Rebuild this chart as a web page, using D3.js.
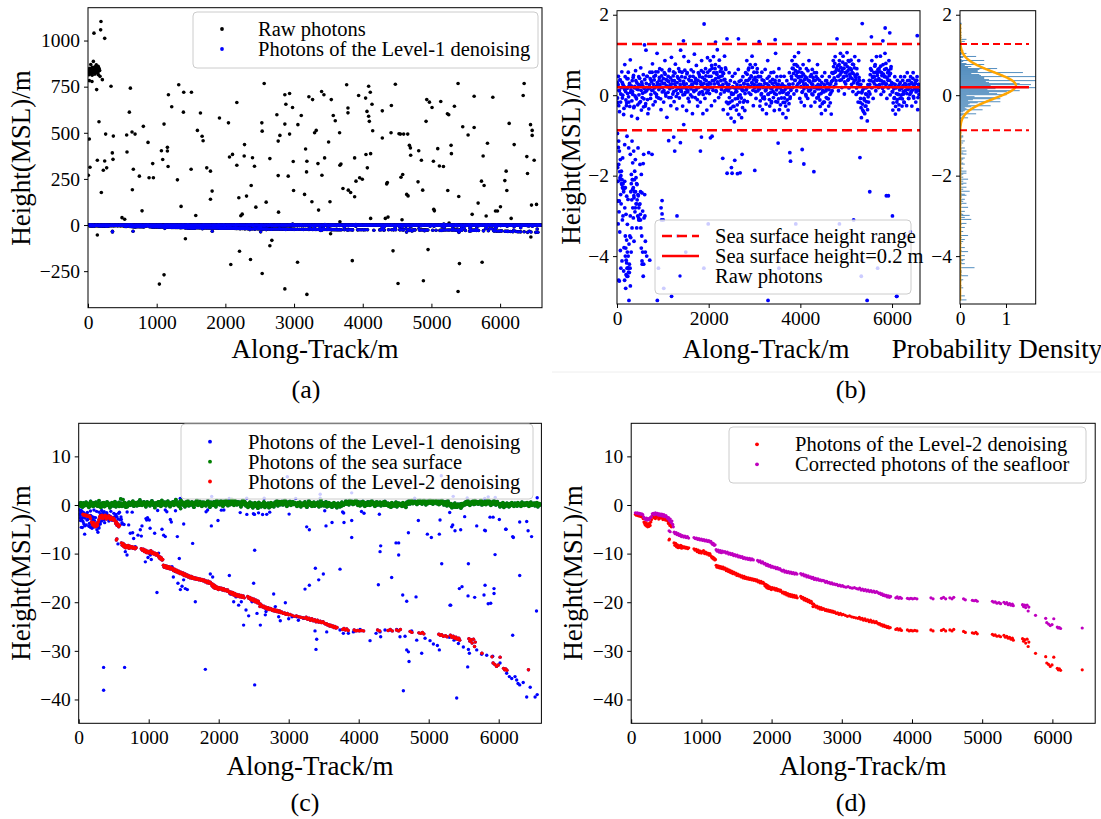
<!DOCTYPE html>
<html><head><meta charset="utf-8">
<script src="https://cdn.jsdelivr.net/npm/d3@7"></script>
<style>
body{margin:0;background:#fff;}
svg text{font-family:"Liberation Serif","Times New Roman",serif;fill:#000;}
</style></head><body>
<svg id="fig" width="1101" height="819"></svg>
<script>
// ---------------- DATA (flat lists: x0,y0, x1,y1, ...) ----------------
// (a) raw photons outside the Level-1 set (along-track m, height m)
const rawNoiseA = [5,835,12,845,20,828,28,850,35,838,42,822,50,846,58,832,65,855,72,840,80,826,88,848,95,836,102,858,110,830,118,844,125,852,132,826,140,840,148,860,155,834,162,848,170,838,15,815,60,812,100,818,150,815,78,887,40,870,120,868,
189,1103,87,1040,184,1058,243,1012,19,783,58,778,126,734,175,806,209,788,335,752,617,742,19,466,29,313,5,270,136,351,160,560,194,176,223,297,243,347,257,493,272,310,136,-54,354,391,364,356,369,482,495,40,534,31,563,488,568,396,602,612,641,504,660,302,646,191,685,493,748,265,787,77,806,535,874,448,889,256,942,333,952,256,1039,-320,1107,-270,1069,403,1088,355,1107,547,1156,421,1156,401,1166,317,1171,706,1219,641,1302,245,1321,760,1355,101,1389,612,1394,720,1418,-74,1506,720,1501,302,1569,52,1593,513,1637,607,1661,481,1676,457,1729,310,1783,292,1783,140,1807,184,1914,580,2045,554,2079,-214,2060,369,2104,383,2167,664,2167,324,2196,148,2206,-142,2225,50,2245,59,2274,374,2279,436,2308,157,2366,-187,2376,214,2395,365,2424,319,2444,97,2531,554,2536,509,2536,-263,2565,767,2594,124,2648,360,2648,-112,2677,-83,2750,598,2769,455,2769,268,2774,70,2794,486,2866,706,2866,547,2866,-346,2881,655,2915,265,2935,713,2935,493,2978,637,2988,344,2993,187,3051,-202,3056,544,3105,594,3153,166,3168,412,3182,288,3187,-376,3216,695,
3270,680,3299,500,3323,513,3187,346,3260,126,3357,81,3348,333,3406,270,3401,724,3435,706,3445,364,3503,450,3523,126,3542,680,3532,-47,3571,594,3600,565,3663,500,3668,324,3683,331,3668,18,3712,198,3766,760,3785,634,3785,608,3790,189,3824,176,3848,-193,3882,364,3882,153,3902,238,3940,702,3955,256,3994,248,4042,688,4047,382,4067,310,4086,752,4062,616,4086,590,4096,562,4110,720,4115,387,4135,655,4115,36,4145,511,4285,619,4285,472,4329,36,4368,43,4358,230,4349,223,4417,648,4412,500,4441,-140,4475,763,4528,495,4548,493,4582,274,4596,493,4557,259,4514,-317,4572,29,4640,166,4660,158,4655,493,4679,432,4694,418,4698,378,4815,403,4805,234,4854,351,4873,189,4883,-302,4932,680,4971,666,5009,637,4922,562,4951,-133,5029,346,5034,86,5043,77,5092,414,5136,670,5116,320,5175,317,5238,187,5233,603,5252,598,5286,432,5291,387,5257,11,5335,644,5388,767,5398,155,5408,-209,5388,-360,5456,533,5534,488,5622,698,5622,529,5593,58,5680,119,5729,238,5767,214,5753,374,5738,-202,5816,443,5797,49,5894,693,5933,76,5962,76,6005,99,6069,241,6088,292,6098,187,6132,551,6161,36,6205,436,6336,702,6350,767,6389,371,6443,544,6467,513,6467,486,6399,279,6496,351,6457,108,6530,112,6448,-65];

// (b) photons around the sea surface (Level-1)
const surfacePhotons = [
5,0.32,18,-0.18,30,0.47,42,0.12,55,-0.41,68,0.38,82,0.03,105,0.58,118,-0.07,130,0.27,145,-0.48,158,0.21,170,0.76,188,0.09,
205,-0.26,218,0.41,232,0.04,246,0.57,260,-0.17,274,0.29,290,0.88,305,0.13,318,-0.52,332,0.36,346,0.02,360,0.49,374,-0.28,388,0.22,
405,0.61,418,-0.06,432,0.31,446,-0.58,460,0.14,474,0.46,488,-0.19,505,0.24,518,0.68,532,-0.37,546,0.28,560,0.05,574,0.51,588,-0.09,
605,0.39,618,-0.27,632,1.12,646,0.11,660,0.47,674,-0.46,688,0.19,705,0.26,718,0.57,732,-0.08,746,0.37,760,0.12,774,0.78,788,-0.24,
805,0.46,818,0.18,832,-0.16,846,0.58,860,0.02,874,1.04,888,0.27,905,-0.07,918,0.36,932,0.66,946,0.19,960,-0.36,974,0.48,988,0.08,
1005,0.29,1018,-0.17,1032,0.56,1046,0.86,1060,0.04,1074,0.39,1088,-0.55,1105,0.21,1118,0.47,1132,-0.06,1146,0.64,1160,0.26,1174,-0.26,1188,0.94,
1205,0.37,1218,0.03,1232,0.58,1246,-0.16,1260,0.28,1274,0.77,1288,0.12,1305,-0.34,1318,0.46,1332,0.18,1346,0.66,1360,-0.07,1374,0.36,1388,1.12,
1405,0.09,1418,0.57,1432,-0.27,1446,0.29,1460,0.96,1474,0.02,1488,0.44,1505,0.17,1518,-0.38,1532,0.56,1546,0.08,1560,0.84,1574,-0.16,1588,0.36,
1605,0.01,1618,0.63,1632,0.27,1646,-0.46,1660,0.47,1674,0.12,1688,1.02,1705,-0.06,1718,0.38,1732,0.74,1746,0.19,1760,-0.27,1774,0.56,1788,0.03,
1805,0.46,1818,-0.17,1832,0.27,1846,0.86,1860,0.09,1874,-0.46,1888,0.57,1905,0.18,1918,-0.08,1932,0.66,1946,0.36,1960,-0.37,1974,0.93,1988,0.12,
2005,0.47,2018,0.04,2032,0.86,2046,0.28,2060,-0.26,2074,0.67,2088,0.19,2105,0.96,2118,0.37,2132,-0.14,2146,0.76,2160,0.11,2174,0.56,2188,1.13,
2205,0.29,2218,-0.06,2232,0.87,2246,0.46,2260,0.03,2274,0.66,2288,0.21,2305,0.57,2318,-0.36,2332,0.38,2346,0.97,2360,0.12,2374,0.64,2388,-0.17,
2405,0.27,2418,-0.47,2432,0.11,2446,0.56,2460,-0.18,2474,0.36,2488,-0.57,2505,0.02,2518,0.47,2532,-0.28,2546,0.19,2560,-0.66,2574,0.54,2588,0.08,
2605,-0.37,2618,0.26,2632,-0.08,2646,0.64,2660,-0.48,2674,0.18,2688,0.01,2705,0.37,2718,-0.56,2732,0.12,2746,0.46,2760,-0.17,2774,0.28,2788,-0.38,
2805,0.56,2818,0.13,2832,0.86,2846,-0.16,2860,0.37,2874,0.67,2888,0.21,2905,0.76,2918,0.02,2932,0.46,2946,0.97,2960,0.28,2974,-0.26,2988,0.57,
3005,0.18,3018,0.76,3032,-0.08,3046,0.37,3060,0.66,3074,0.11,3088,0.47,3105,0.27,3118,-0.27,3132,0.46,3146,0.01,3160,0.57,3174,-0.36,3188,0.19,
3205,0.36,3218,-0.09,3232,0.64,3246,0.12,3260,-0.46,3274,0.28,3288,0.86,3305,0.03,3318,0.47,3332,-0.27,3346,0.18,3360,0.56,3374,-0.16,3388,0.29,
3405,0.09,3418,0.57,3432,-0.38,3446,0.37,3460,1.04,3474,0.02,3488,0.46,3505,-0.17,3518,0.27,3532,0.66,3546,-0.36,3560,0.18,3574,0.47,3588,-0.07,
3605,0.28,3618,-0.46,3632,0.09,3646,0.47,3660,-0.18,3674,0.21,3688,-0.56,3705,0.36,3718,0.02,3732,-0.37,3746,0.27,3760,0.56,3774,-0.08,3788,0.18,
3805,0.47,3818,0.86,3832,0.19,3846,0.66,3860,0.03,3874,0.96,3888,0.37,3905,0.76,3918,0.11,3932,0.57,3946,0.28,3960,1.06,3974,0.46,3988,-0.08,
4005,0.37,4018,-0.17,4032,0.56,4046,0.09,4060,0.76,4074,0.27,4088,-0.26,4105,0.46,4118,0.02,4132,0.66,4146,0.19,4160,-0.08,4174,0.37,4188,0.86,
4205,0.11,4218,0.47,4232,-0.27,4246,0.28,4260,0.64,4274,0.01,4288,0.36,4305,0.56,4318,-0.17,4332,0.19,4346,0.46,4360,-0.07,4374,0.76,4388,0.27,
4405,0.02,4418,0.37,4432,-0.28,4446,0.18,4460,-0.46,4474,0.47,4488,0.09,4505,-0.17,4518,0.27,4532,0.56,4546,-0.37,4560,0.11,4574,0.36,4588,-0.08,
4605,0.19,4618,-0.27,4632,0.46,4646,0.02,4660,0.28,4674,-0.47,4688,0.56,4705,0.37,4718,0.86,4732,0.21,4746,0.57,4760,0.96,4774,0.28,4788,0.66,
4818,0.47,4832,0.11,4846,0.76,4860,0.37,4874,1.04,4888,0.56,4905,0.19,4918,0.66,4932,0.97,4946,0.46,4960,0.03,4974,0.76,4988,0.28,
5005,0.57,5018,1.06,5032,0.37,5046,0.86,5060,0.18,5074,0.67,5088,0.46,5105,0.87,5118,0.27,5132,0.56,5146,0.09,5160,0.76,5174,0.36,5188,0.96,
5205,0.46,5218,0.02,5232,0.66,5246,0.28,5260,-0.17,5274,0.86,5288,0.37,5305,-0.18,5318,0.27,5332,-0.56,5346,0.09,5360,-0.37,5374,0.36,5388,-0.08,
5405,-0.46,5418,0.18,5432,-0.27,5446,0.02,5460,-0.64,5474,0.26,5488,-0.17,5505,0.37,5518,0.03,5532,0.66,5546,0.19,5560,0.86,5574,0.46,5588,-0.08,
5605,0.56,5618,0.28,5632,0.76,5646,0.11,5660,0.96,5674,0.37,5688,0.57,5705,0.19,5718,0.66,5732,0.37,5746,0.97,5760,0.02,5774,0.56,5788,0.28,
5805,0.76,5818,0.09,5832,0.46,5846,1.04,5860,0.27,5874,0.66,5888,-0.08,5905,0.56,5918,0.18,5932,0.86,5946,0.37,5960,0.01,5974,0.66,5988,0.27,
6005,0.09,6018,-0.37,6032,0.28,6046,-0.08,6060,0.46,6074,-0.47,6088,0.18,6105,-0.17,6118,0.37,6132,0.02,6146,-0.36,6160,0.27,6174,-0.08,6188,0.46,
6205,0.01,6218,-0.27,6232,0.37,6246,0.09,6260,-0.17,6274,0.46,6288,0.11,6305,0.27,6318,-0.26,6332,0.56,6346,0.18,6360,-0.08,6374,0.37,6388,0.02,
6405,0.46,6418,0.09,6432,-0.27,6446,0.28,6460,0.56,6474,-0.07,6488,0.19,6505,0.37,6518,-0.17,6532,0.11,6546,0.46,6560,-0.36,6574,0.27,6588,0.02,
// denser core of the band
12,-0.07,25,0.26,39,-0.26,52,0.11,66,0.38,79,-0.17,94,0.19,112,0.32,125,0.0,139,0.21,152,-0.33,166,0.14,179,0.46,194,-0.12,
212,-0.19,225,0.17,239,0.41,252,-0.04,266,0.24,279,-0.28,294,0.07,312,0.23,325,-0.14,339,0.09,352,0.44,366,-0.31,379,0.18,394,-0.02,
412,0.36,425,-0.09,439,0.15,452,-0.24,466,0.27,479,0.01,494,0.42,512,-0.16,525,0.12,539,0.33,552,-0.06,566,0.22,579,-0.29,594,0.17,
612,0.08,625,-0.21,639,0.29,652,0.47,666,-0.11,679,0.16,694,-0.34,712,0.18,725,0.41,739,0.02,752,0.33,766,0.57,779,0.12,794,0.27,
812,0.38,825,0.06,839,0.49,852,0.21,866,-0.04,879,0.31,894,0.58,912,0.14,925,0.44,939,0.26,952,-0.09,966,0.35,979,0.63,994,0.19,
1012,0.41,1025,0.11,1039,0.29,1052,0.52,1066,-0.02,1079,0.24,1094,0.37,1112,0.07,1125,0.34,1139,0.61,1152,0.16,1166,0.43,1179,-0.06,1194,0.28,
1212,0.19,1225,0.48,1239,0.09,1252,0.36,1266,0.55,1279,0.22,1294,-0.03,1312,0.31,1325,0.04,1339,0.42,1352,0.17,1366,0.59,1379,0.26,1394,0.11,
1412,0.46,1425,0.18,1439,0.01,1452,0.34,1466,0.23,1479,0.62,1494,0.07,1512,0.28,1525,0.53,1539,0.12,1552,-0.08,1566,0.39,1579,0.21,1594,0.47,
1612,0.16,1625,0.36,1639,-0.04,1652,0.27,1666,0.58,1679,0.09,1694,0.32,1712,0.42,1725,0.13,1739,0.29,1752,-0.11,1766,0.37,1779,0.19,1794,0.51,
1812,0.07,1825,0.33,1839,0.61,1852,0.24,1866,0.44,1879,0.02,1894,0.29,1912,0.39,1925,0.16,1939,0.48,1952,0.06,1966,0.27,1979,0.57,1994,0.21,
2012,0.31,2025,0.62,2039,0.19,2052,0.47,2066,0.74,2079,0.36,2094,0.12,2112,0.56,2125,0.28,2139,0.66,2152,0.41,2166,0.09,2179,0.52,2194,0.33,
2212,0.44,2225,0.71,2239,0.23,2252,0.59,2266,0.36,2279,0.14,2294,0.48,2312,0.27,2325,0.54,2339,0.08,2352,0.39,2366,0.68,2379,0.31,2394,0.18,
2412,0.13,2425,-0.21,2439,0.27,2452,-0.06,2466,0.18,2479,-0.33,2494,0.06,2512,-0.14,2525,0.21,2539,0.03,2552,-0.28,2566,0.32,2579,-0.09,2594,0.16,
2612,0.09,2625,-0.24,2639,0.19,2652,-0.02,2666,0.34,2679,-0.17,2694,0.24,2712,-0.07,2725,0.16,2739,-0.31,2752,0.11,2766,0.29,2779,-0.13,2794,0.04,
2812,0.36,2825,0.14,2839,0.52,2852,0.27,2866,0.63,2879,0.06,2894,0.41,2912,0.22,2925,0.48,2939,0.31,2952,0.69,2966,0.12,2979,0.38,2994,0.26,
3012,0.44,3025,0.09,3039,0.33,3052,0.57,3066,0.24,3079,0.46,3094,0.17,3112,0.16,3125,-0.14,3139,0.26,3152,0.04,3166,0.38,3179,-0.07,3194,0.21,
3212,-0.04,3225,0.29,3239,0.11,3252,-0.22,3266,0.18,3279,0.42,3294,0.02,3312,0.24,3325,-0.11,3339,0.34,3352,0.07,3366,-0.19,3379,0.16,3394,0.39,
3412,-0.06,3425,0.22,3439,0.04,3452,0.31,3466,-0.16,3479,0.13,3494,0.27,3512,0.19,3525,-0.09,3539,0.36,3552,0.06,3566,-0.24,3579,0.23,3594,0.12,
3612,0.07,3625,-0.18,3639,0.23,3652,-0.07,3666,0.14,3679,-0.27,3694,0.03,3712,-0.12,3725,0.19,3739,0.06,3752,-0.21,3766,0.27,3779,-0.04,3794,0.12,
3812,0.41,3825,0.67,3839,0.28,3852,0.54,3866,0.76,3879,0.37,3894,0.61,3912,0.49,3925,0.23,3939,0.72,3952,0.44,3966,0.58,3979,0.31,3994,0.66,
4012,0.21,4025,0.46,4039,0.07,4052,0.34,4066,0.52,4079,0.16,4094,0.39,4112,0.28,4125,-0.02,4139,0.43,4152,0.24,4166,0.61,4179,0.11,4194,0.36,
4212,0.33,4225,0.14,4239,0.51,4252,0.03,4266,0.27,4279,0.44,4294,0.19,4312,0.09,4325,0.37,4339,0.22,4352,0.56,4366,0.16,4379,0.41,4394,-0.04,
4412,0.16,4425,-0.12,4439,0.24,4452,0.04,4466,0.31,4479,-0.21,4494,0.12,4512,0.08,4525,-0.17,4539,0.21,4552,0.36,4566,-0.06,4579,0.17,4594,0.29,
4612,-0.09,4625,0.14,4639,0.27,4652,-0.19,4666,0.06,4679,0.34,4694,0.11,4712,0.54,4725,0.71,4739,0.43,4752,0.79,4766,0.58,4779,0.36,4794,0.64,
4812,0.73,4825,0.47,4839,0.62,4852,0.86,4866,0.51,4879,0.69,4894,0.38,4912,0.59,4925,0.82,4939,0.44,4952,0.67,4966,0.33,4979,0.56,4994,0.78,
5012,0.48,5025,0.71,5039,0.61,5052,0.39,5066,0.84,5079,0.52,5094,0.66,5112,0.63,5125,0.42,5139,0.77,5152,0.54,5166,0.31,5179,0.68,5194,0.49,
5212,0.39,5225,0.18,5239,0.52,5252,0.31,5266,0.07,5279,0.44,5294,0.26,5312,-0.08,5325,-0.31,5339,0.06,5352,-0.22,5366,0.14,5379,-0.41,5394,-0.12,
5412,-0.27,5425,0.03,5439,-0.16,5452,0.19,5466,-0.36,5479,-0.04,5494,0.09,5512,0.27,5525,0.51,5539,0.36,5552,0.62,5566,0.19,5579,0.44,5594,0.33,
5612,0.46,5625,0.72,5639,0.38,5652,0.57,5666,0.24,5679,0.49,5694,0.64,5712,0.41,5725,0.26,5739,0.58,5752,0.72,5766,0.36,5779,0.49,5794,0.17,
5812,0.52,5825,0.33,5839,0.64,5852,0.46,5866,0.79,5879,0.28,5894,0.43,5912,0.37,5925,0.61,5939,0.49,5952,0.24,5966,0.54,5979,0.71,5994,0.31,
6012,0.08,6025,-0.19,6039,0.16,6052,-0.06,6066,0.27,6079,-0.28,6094,0.04,6112,-0.11,6125,0.21,6139,0.02,6152,-0.24,6166,0.13,6179,0.31,6194,-0.07,
6212,0.17,6225,-0.09,6239,0.24,6252,0.03,6266,-0.18,6279,0.29,6294,0.12,6312,0.21,6325,0.04,6339,0.36,6352,0.14,6366,-0.08,6379,0.27,6394,0.18,
6412,0.06,6425,0.31,6439,0.12,6452,0.42,6466,-0.03,6479,0.24,6494,0.16,6512,0.29,6525,0.08,6539,0.37,6552,0.17,6566,-0.06,6579,0.26,6594,0.11,
// outliers above / below the sea surface
1900,1.77,5350,1.78,5850,1.67,5950,1.55,6550,1.48,2650,1.40,2400,1.40,4800,1.40,5550,1.45,5800,1.35,3450,1.38,2150,1.32,600,1.25,3100,1.33,1450,1.35,
692,-1.43,764,-1.47,983,-2.62,983,-2.95,1128,-1.13,1237,-1.04,1259,-1.39,1383,-1.18,1456,-0.73,1820,-1.39,1842,-1.04,2038,-1.06,2074,-1.02,2307,-1.57,2402,-1.94,2496,-1.80,2511,-1.94,2569,-1.62,2627,-1.95,2686,-1.93,2729,-1.47,3006,-1.87,3515,-1.19,3770,-1.43,3785,-1.64,4040,-1.35,4076,-1.71,5300,-1.55,6400,-3.4,1500,-3.9,1020,-4.8,
// near-shore shallow photons
37,-1.14,51,-1.39,73,-1.60,37,-1.72,95,-1.89,66,-2.05,109,-2.22,146,-2.34,168,-2.14,80,-2.47,51,-2.63,182,-2.30,211,-2.51,240,-2.59,197,-2.96,226,-3.21,153,-3.79,182,-4.0,211,-4.17,240,-4.29,197,-4.46,269,-4.41,291,-4.74,51,-4.62,146,-4.37,109,-4.12,73,-3.86,22,-2.63,22,-2.14,124,-1.56,168,-1.23,218,-1.02,255,-1.31,291,-1.47,328,-1.14,342,-1.68,364,-1.39,386,-1.89,400,-1.60,415,-2.05,437,-2.22,313,-1.97,342,-2.34,371,-2.55,400,-2.80,357,-3.05,328,-3.30,299,-3.54,371,-3.63,430,-3.30,459,-2.47,488,-2.72,510,-2.96,546,-2.43,531,-1.97,560,-2.88,590,-3.05,604,-2.47,619,-3.63,648,-4.0,546,-4.12,473,-3.05,502,-1.72,459,-1.31,582,-1.47,10,-0.95,30,-1.3,15,-1.8,45,-2.9,60,-3.4,25,-3.2,90,-2.7,130,-3.0];

// (c) Level-1 photons that are neither sea surface nor Level-2 seafloor
const level1Noise = [37,-4.6,85,-4.3,85,-6.0,118,-3.1,190,-4.8,218,-4.5,252,-4.3,275,-5.6,309,-3.9,342,-2.1,380,-2.4,428,-2.7,475,-3.1,514,-2.4,571,-1.7,609,-3.0,618,-3.9,561,-8.0,666,-9.6,690,-10.3,714,-4.1,737,-5.8,771,-5.7,785,-6.9,809,-8.6,847,-6.2,880,-5.1,904,-4.3,895,-6.4,928,-9.4,961,-2.8,971,-3.1,952,-11.7,990,-10.8,1023,-10.3,1037,-11.2,1085,-5.8,1118,-18.0,1142,-9.9,1190,-5.0,1214,-6.2,1237,-6.5,1323,-3.5,1333,-12.7,1352,-14.8,1380,-13.7,1409,-6.5,1437,-11.0,1418,-16.1,1452,-17.4,1476,-16.7,1499,-15.4,1523,-17.2,1552,-17.4,1628,-7.9,1666,-19.9,1809,-33.8,1895,-4.3,1990,-3.2,1880,-14.2,1914,-14.8,2152,-14.5,2166,-18.3,2214,-19.9,2247,-18.9,2285,-20.6,2323,-19.9,2356,-24.7,2390,-21.6,2428,-22.8,2476,-19.9,2499,-16.1,2514,-37.0,2514,-9.3,2547,-22.3,2595,-24.7,2666,-22.6,2676,-21.9,2785,-18.3,2809,-20.9,2857,-23.0,2880,-23.8,2952,-20.1,3000,-23.4,3047,-23.0,356,-33.4,356,-38.1,656,-33.4,166,-4.6,261,-5.1,285,-4.3,1309,-3.0,1009,-3.1,
3257,-4.5,3295,-5.1,3533,-4.3,3619,-3.6,3790,-3.6,3900,-3.2,3900,-6.7,4295,-1.9,4305,-9.6,4314,-8.4,4533,-7.8,4571,-7.8,4571,-10.3,4710,-5.7,4852,-3.2,4981,-6.0,5038,-6.7,5152,-6.0,5162,-3.1,5343,-4.1,5329,-4.5,5376,-5.3,5457,-5.1,5514,-2.4,5686,-4.3,5810,-5.3,5876,-2.5,6009,-3.0,6105,-5.0,6209,-6.7,3381,-13.0,3495,-14.2,3733,-13.2,3429,-15.4,3295,-16.5,3233,-17.3,4281,-16.4,4471,-14.9,4629,-18.5,4686,-19.8,4819,-18.9,5186,-12.1,5314,-20.6,5476,-16.8,5438,-17.2,5567,-12.1,5805,-16.5,5933,-17.2,5933,-18.2,5886,-20.2,5948,-10.2,5790,-18.5,5657,-19.0,5562,-18.7,5305,-20.6,
3114,-23.0,3138,-23.7,3209,-23.3,3376,-25.9,3400,-27.6,3390,-29.7,3543,-26.1,3733,-25.7,3781,-26.4,3852,-26.4,3924,-26.1,4019,-25.6,4162,-27.9,4248,-26.4,4305,-26.1,4314,-27.1,4376,-25.7,4448,-25.7,4543,-25.6,4590,-27.1,4662,-27.0,4686,-29.8,4710,-30.2,4719,-32.2,4757,-25.9,4829,-27.8,4900,-30.5,4948,-27.4,5019,-27.9,5067,-28.6,5124,-28.9,5152,-29.8,5295,-27.2,5362,-27.8,5424,-28.5,5495,-29.2,5567,-29.7,5581,-30.5,5557,-33.3,5686,-29.8,5757,-30.7,5829,-30.9,5914,-31.1,6019,-32.5,6114,-34.6,6152,-35.3,6186,-35.7,6233,-35.3,6257,-36.0,6276,-36.7,4638,-38.2,5400,-39.7,
6300,-37.0,6350,-36.5,6400,-39.5,6450,-37.5,6520,-39.5,6550,-39.0,6540,-21.8,6470,-6.5,6420,-5.3,6300,-14.5,6300,-3.5,6200,-26.8,6200,-6.5,6100,-5.0,5920,-2.5,5850,-20.3,5800,-5.2,2980,5.8,5180,6.0,3450,2.2,3900,2.5];

// (c)/(d) Level-2 denoised seafloor photons
const level2Photons = [60,-1.9,72,-2.1,85,-2.0,98,-2.2,110,-2.1,120,-2.3,132,-2.2,145,-2.4,158,-2.3,170,-2.8,182,-3.5,192,-3.8,200,-4.1,210,-3.6,218,-4.3,226,-3.9,235,-4.5,244,-4.0,252,-4.4,262,-3.7,270,-4.2,280,-3.5,290,-3.0,
301,-2.4,312,-2.2,322,-2.6,334,-2.1,345,-2.8,356,-2.3,368,-2.5,380,-2.1,392,-2.9,404,-2.4,416,-2.7,428,-2.2,440,-2.6,452,-3.0,464,-2.5,476,-2.8,488,-3.1,500,-2.7,512,-3.1,520,-3.3,530,-3.8,540,-3.5,550,-4.2,560,-3.9,572,-4.5,582,-4.2,538,-7.2,545,-7.0,
610,-7.8,622,-8.3,634,-7.9,646,-8.6,658,-8.2,670,-8.8,682,-8.4,694,-8.7,706,-8.3,718,-8.9,730,-8.5,745,-8.8,760,-8.6,775,-8.9,790,-8.7,805,-9.0,820,-8.8,
894,-9.0,910,-9.3,925,-9.1,940,-9.6,955,-9.3,970,-9.8,985,-9.5,1000,-9.9,1015,-9.6,1030,-9.4,1045,-10.0,1060,-9.7,1075,-10.1,1090,-9.9,1105,-10.3,1120,-10.0,1132,-10.4,1142,-10.6,1152,-10.9,1162,-10.7,1172,-11.1,1182,-10.9,1192,-11.3,1200,-11.2,
1210,-12.4,1222,-12.8,1235,-12.5,1248,-12.9,1260,-12.6,1272,-13.0,1285,-12.7,1298,-13.1,1310,-12.8,1325,-13.2,1340,-13.0,1355,-13.5,1370,-13.2,1385,-13.7,1400,-13.4,1415,-13.9,1430,-13.6,1445,-14.1,1460,-13.8,1475,-14.2,1490,-14.0,1505,-14.5,1520,-14.2,1535,-14.6,1550,-14.4,1565,-14.8,1580,-14.6,1595,-15.0,1610,-14.7,1625,-15.1,1640,-14.9,1655,-15.2,1670,-15.0,1685,-15.3,1700,-15.1,1715,-15.4,1730,-15.2,1745,-15.5,
1760,-15.3,1775,-15.6,1790,-15.4,1805,-15.8,1820,-15.6,1835,-16.0,1850,-15.7,1865,-16.1,1880,-15.9,1895,-16.2,1905,-16.6,1915,-16.3,1925,-16.9,1935,-16.5,1945,-17.1,1955,-16.7,1965,-17.2,1980,-16.9,1995,-17.4,2010,-17.0,2025,-17.3,2040,-17.1,2055,-17.5,2070,-17.2,2085,-17.6,2100,-17.4,2115,-17.7,2128,-17.5,
2140,-17.8,2155,-18.1,2170,-17.9,2185,-18.3,2200,-18.0,2215,-18.5,2230,-18.2,2245,-18.7,2260,-18.4,2275,-18.8,2290,-18.5,2305,-18.9,2320,-18.6,2335,-19.0,2350,-18.7,2365,-19.1,
2415,-18.8,2430,-19.2,2445,-19.0,2460,-19.5,2475,-19.2,2490,-19.7,2505,-19.4,2520,-19.9,2535,-19.6,2550,-20.1,2565,-19.8,2580,-20.3,2590,-20.9,2600,-20.4,2615,-20.7,2630,-21.0,2645,-20.8,2660,-21.2,2675,-21.0,2690,-21.4,2705,-21.1,2720,-21.5,2735,-21.3,
2750,-21.4,2765,-21.7,2780,-21.5,2795,-21.8,2810,-21.6,2825,-21.9,2840,-21.7,2855,-22.0,2870,-21.8,2885,-22.1,2900,-22.0,2920,-22.3,2940,-22.2,2960,-22.5,2980,-22.3,3000,-22.6,3020,-22.5,3050,-22.7,3080,-22.9,3110,-22.8,3140,-23.0,3170,-23.1,3200,-23.2,
3230,-23.3,3250,-23.1,3270,-23.5,3290,-23.3,3310,-23.7,3330,-23.4,3350,-23.8,3370,-23.6,3390,-24.0,3410,-23.7,3430,-24.1,3450,-23.9,3470,-24.2,3490,-24.0,3510,-24.3,3525,-24.5,3540,-24.4,3555,-24.7,3570,-24.6,3585,-24.9,3600,-24.7,3615,-25.0,3630,-24.9,3645,-25.2,3660,-25.0,3675,-25.3,3690,-25.2,
3770,-25.6,3790,-25.4,3810,-25.7,3830,-25.5,3850,-25.8,3935,-25.7,3960,-25.9,3985,-25.8,4010,-25.9,4040,-25.8,4070,-25.9,4270,-25.7,4300,-25.9,4420,-25.8,4450,-25.6,4480,-25.9,4540,-25.7,4570,-25.9,4595,-25.6,4735,-26.0,4760,-26.2,4860,-26.3,4885,-26.4,4910,-26.2,4930,-26.5,
5145,-26.6,5165,-26.8,5185,-26.7,5210,-27.0,5240,-26.9,5262,-27.1,5310,-26.8,5330,-27.2,5350,-27.0,5370,-27.4,5390,-27.2,5410,-27.6,5430,-27.4,5443,-27.8,5575,-27.5,5590,-28.0,5605,-27.7,5620,-28.4,5640,-27.6,5655,-29.1,5665,-28.2,
5760,-30.5,5905,-31.2,5920,-32.5,5945,-32.8,5970,-33.2,5995,-32.9,6020,-31.3,6070,-33.6,6085,-33.9,6100,-33.7,6117,-34.0,6425,-33.9];

// (d) refraction-corrected seafloor photons
const correctedSeafloor = [60,-1.6,75,-1.7,90,-1.6,105,-1.8,120,-1.7,135,-1.9,150,-1.8,165,-2.0,180,-2.5,192,-2.8,205,-3.0,218,-2.7,230,-3.1,245,-2.8,258,-3.0,272,-2.6,287,-2.4,
301,-1.8,315,-1.7,330,-2.0,345,-1.6,360,-1.9,375,-1.7,390,-2.1,405,-1.8,420,-2.2,435,-1.9,450,-2.3,465,-2.0,480,-2.4,495,-2.2,510,-2.5,520,-2.8,532,-2.6,545,-3.2,556,-2.9,568,-3.6,580,-3.3,592,-4.0,600,-4.5,540,-5.3,555,-5.5,
612,-5.6,625,-5.9,640,-5.7,655,-6.1,670,-5.9,685,-6.3,700,-6.1,715,-6.5,730,-6.3,748,-6.6,765,-6.4,782,-6.7,800,-6.5,818,-6.8,
895,-6.7,912,-6.9,930,-6.8,948,-7.1,965,-6.9,982,-7.2,1000,-7.0,1018,-7.3,1035,-7.1,1052,-7.4,1070,-7.2,1088,-7.5,1105,-7.3,1120,-7.6,1135,-7.5,1145,-7.8,1158,-8.1,1170,-7.9,1182,-8.3,1195,-8.2,
1210,-9.2,1225,-9.5,1240,-9.3,1255,-9.7,1270,-9.4,1285,-9.8,1300,-9.5,1318,-9.7,1335,-9.6,1352,-9.9,1370,-9.7,1388,-10.1,1405,-9.9,1422,-10.2,1440,-10.0,1458,-10.4,1475,-10.2,1492,-10.5,1510,-10.3,1528,-10.7,1545,-10.5,1562,-10.8,1580,-10.6,1598,-11.0,1615,-10.8,1632,-11.1,1650,-10.9,1668,-11.2,1685,-11.0,1702,-11.3,1720,-11.1,1740,-11.3,
1800,-11.4,1818,-11.7,1836,-11.5,1854,-11.9,1872,-11.7,1890,-12.1,1908,-12.0,1925,-12.4,1942,-12.2,1960,-12.6,1978,-12.4,1995,-12.8,2012,-12.6,2030,-12.9,2048,-12.8,2065,-13.1,2082,-12.9,2100,-13.2,2118,-13.1,
2135,-13.4,2152,-13.6,2170,-13.4,2188,-13.8,2205,-13.6,2222,-13.9,2240,-13.7,2258,-14.0,2275,-13.8,2292,-14.1,2310,-13.9,2328,-14.2,2345,-14.0,2362,-14.2,
2415,-14.1,2432,-14.4,2450,-14.2,2468,-14.6,2485,-14.4,2502,-14.8,2520,-14.6,2538,-14.9,2555,-14.8,2572,-15.1,2590,-14.9,2608,-15.3,2625,-15.1,2642,-15.4,2660,-15.2,2678,-15.5,2695,-15.4,2712,-15.6,2730,-15.5,
2750,-15.6,2768,-15.9,2786,-15.7,2804,-16.0,2822,-15.9,2840,-16.2,2858,-16.0,2876,-16.3,2894,-16.2,2912,-16.4,2930,-16.3,2950,-16.6,2970,-16.5,2990,-16.7,3010,-16.6,3030,-16.8,3060,-16.9,3090,-16.8,3120,-17.0,3150,-17.1,3180,-17.0,3210,-17.2,
3235,-17.3,3255,-17.1,3275,-17.5,3295,-17.3,3315,-17.6,3335,-17.4,3355,-17.7,3375,-17.5,3395,-17.8,3415,-17.6,3435,-17.9,3455,-17.7,3475,-18.0,3495,-17.8,3515,-18.0,3530,-18.2,3545,-18.1,3560,-18.4,3575,-18.3,3590,-18.6,3605,-18.5,3620,-18.7,3635,-18.6,3650,-18.9,3665,-18.7,3680,-19.0,3695,-18.8,
3770,-19.1,3790,-18.9,3810,-19.2,3830,-19.0,3850,-19.2,3935,-19.2,3960,-19.3,3985,-19.2,4010,-19.3,4040,-19.2,4070,-19.3,4270,-19.1,4300,-19.3,4420,-19.2,4450,-19.0,4480,-19.3,4540,-19.1,4570,-19.3,4595,-19.0,4735,-19.3,4760,-19.5,4860,-19.6,4885,-19.7,4910,-19.6,4930,-19.8,
5145,-19.8,5165,-20.0,5185,-19.9,5210,-20.2,5240,-20.1,5262,-20.3,5310,-20.0,5330,-20.3,5350,-20.1,5370,-20.5,5390,-20.3,5410,-20.6,5430,-20.4,5443,-20.7,5575,-20.5,5590,-20.9,5605,-20.6,5620,-21.1,5640,-20.6,5655,-21.8,5665,-21.0,
5760,-22.7,5905,-23.3,5920,-24.2,5945,-24.5,5970,-24.8,5995,-24.6,6020,-23.4,6070,-25.1,6085,-25.3,6100,-25.2,6117,-25.4,6425,-25.3];

const seaSurfaceHeight = 0.2;          // m
const seaSurfaceRange = [-0.87, 1.27]; // m

const ticksA_x = [0,1000,2000,3000,4000,5000,6000];
const ticksA_y = [-250,0,250,500,750,1000];
const ticksB_x = [0,2000,4000,6000];
const ticksB_y = [-4,-2,0,2];
const ticksH_x = [0,1];
const ticksCD_x = [0,1000,2000,3000,4000,5000,6000];
const ticksCD_y = [-40,-30,-20,-10,0,10];

// ---------------- DRAWING ----------------
const SERIF = '"Liberation Serif","Times New Roman",serif';
const pts = a => { const r = []; for (let i = 0; i < a.length; i += 2) r.push([a[i], a[i+1]]); return r; };
const raw = pts(rawNoiseA), surf = pts(surfacePhotons), noise = pts(level1Noise),
      lv2 = pts(level2Photons), corr = pts(correctedSeafloor);
const level1All = surf.concat(noise, lv2);
const svg = d3.select('#fig');
const fmt = v => (v < 0 ? '\u2212' : '') + Math.abs(v);
let clipN = 0;

function panel(o) {
  const x = d3.scaleLinear().domain(o.xd).range([o.l, o.r]);
  const y = d3.scaleLinear().domain(o.yd).range([o.b, o.t]);
  const id = 'clip' + (clipN++);
  svg.append('clipPath').attr('id', id).append('rect')
    .attr('x', o.l).attr('y', o.t).attr('width', o.r - o.l).attr('height', o.b - o.t);
  const g = svg.append('g').attr('clip-path', `url(#${id})`);
  return {x, y, g, o};
}
function dots(p, data, color, r) {
  p.g.append('g').selectAll('circle').data(data).join('circle')
    .attr('cx', d => p.x(d[0])).attr('cy', d => p.y(d[1])).attr('r', r).attr('fill', color);
}
function frame(p, xt, yt, xIn) {
  const o = p.o;
  const gx = svg.append('g').attr('transform', `translate(0,${o.b})`)
    .call(d3.axisBottom(p.x).tickValues(xt).tickFormat(fmt).tickSizeInner(xIn ? -4 : 4).tickSizeOuter(0).tickPadding(xIn ? 7 : 3));
  const gy = svg.append('g').attr('transform', `translate(${o.l},0)`)
    .call(d3.axisLeft(p.y).tickValues(yt).tickFormat(fmt).tickSizeInner(4).tickSizeOuter(0).tickPadding(4));
  [gx, gy].forEach(g => {
    g.select('.domain').remove();
    g.attr('font-family', SERIF).attr('font-size', 19.5);
    g.selectAll('text').style('font-family', SERIF).style('font-size', '19.5px');
  });
  svg.append('rect').attr('x', o.l).attr('y', o.t).attr('width', o.r - o.l).attr('height', o.b - o.t)
    .attr('fill', 'none').attr('stroke', '#000').attr('stroke-width', 1);
}
function label(txt, x, y, size, rot) {
  const t = svg.append('text').attr('font-size', size).attr('text-anchor', 'middle').text(txt);
  if (rot) t.attr('transform', `translate(${x},${y}) rotate(-90)`); else t.attr('x', x).attr('y', y);
}
function legend(b, rows) {
  svg.append('rect').attr('x', b.x).attr('y', b.y).attr('width', b.w).attr('height', b.h).attr('rx', 4)
    .attr('fill', '#fff').attr('fill-opacity', 0.8).attr('stroke', '#ccc').attr('stroke-width', 1);
  rows.forEach((r, i) => {
    const cy = b.rows[i];
    if (r.kind === 'dot') svg.append('circle').attr('cx', b.mx).attr('cy', cy).attr('r', r.r).attr('fill', r.color);
    else svg.append('line').attr('x1', b.lx[0]).attr('x2', b.lx[1]).attr('y1', cy).attr('y2', cy)
      .attr('stroke', r.color).attr('stroke-width', 2.5).attr('stroke-dasharray', r.kind === 'dash' ? '10,5' : null);
    svg.append('text').attr('x', b.tx).attr('y', cy + 7).attr('font-size', 20.5).text(r.label);
  });
}

// ----- (a) -----
const pa = panel({xd: [0, 6610], yd: [-448, 1178], l: 88, r: 542, t: 7.7, b: 307.7});
dots(pa, raw.concat(level1All), '#000', 1.8);
dots(pa, level1All, '#0000ff', 1.5);
frame(pa, ticksA_x, ticksA_y, true);
legend({x: 193, y: 12, w: 345, h: 56, mx: 222, tx: 258, rows: [29, 49]},
  [{kind: 'dot', color: '#000', r: 1.9, label: 'Raw photons'},
   {kind: 'dot', color: '#0000ff', r: 1.9, label: 'Photons of the Level-1 denoising'}]);
label('Along-Track/m', 315, 358, 27);
label('Height(MSL)/m', 30, 158, 27, true);
label('(a)', 306, 398, 26);

// ----- (b) -----
const bRange = [-5.19, 2.10];
const pb = panel({xd: [0, 6610], yd: bRange, l: 617, r: 920, t: 10.7, b: 304});
const inB = level1All.filter(d => d[1] >= bRange[0] && d[1] <= bRange[1]);
dots(pb, inB, '#0000ff', 1.9);
[seaSurfaceRange[0], seaSurfaceRange[1]].forEach(v => pb.g.append('line')
  .attr('x1', pb.o.l).attr('x2', pb.o.r).attr('y1', pb.y(v)).attr('y2', pb.y(v))
  .attr('stroke', '#ff0000').attr('stroke-width', 2.5).attr('stroke-dasharray', '10,5'));
pb.g.append('line').attr('x1', pb.o.l).attr('x2', pb.o.r).attr('y1', pb.y(seaSurfaceHeight)).attr('y2', pb.y(seaSurfaceHeight))
  .attr('stroke', '#ff0000').attr('stroke-width', 2.5);
frame(pb, ticksB_x, ticksB_y, false);
legend({x: 655, y: 220, w: 256, h: 74, mx: 680, lx: [662, 699], tx: 715, rows: [236, 256, 276]},
  [{kind: 'dash', color: '#ff0000', label: 'Sea surface height range'},
   {kind: 'line', color: '#ff0000', label: 'Sea surface height=0.2 m'},
   {kind: 'dot', color: '#0000ff', r: 1.7, label: 'Raw photons'}]);
label('Along-Track/m', 766, 358, 27);
label('Height(MSL)/m', 580, 157, 27, true);

// ----- histogram of (b) -----
const ph = panel({xd: [0, 1.646], yd: bRange, l: 960, r: 1035.7, t: 10.7, b: 304});
const hv = inB.map(d => d[1]);
const bw = 0.025;
const bins = d3.bin().domain(bRange).thresholds(d3.range(-5.2, 2.1, bw))(hv);
ph.g.append('g').selectAll('rect').data(bins).join('rect')
  .attr('x', ph.x(0)).attr('y', d => ph.y(d.x1))
  .attr('width', d => ph.x(d.length / (hv.length * (d.x1 - d.x0))) - ph.x(0))
  .attr('height', d => Math.max(0, ph.y(d.x0) - ph.y(d.x1)))
  .attr('fill', '#2b73b0').attr('fill-opacity', 0.8);
const inRange = hv.filter(v => v >= seaSurfaceRange[0] && v <= seaSurfaceRange[1]);
const mu = d3.mean(inRange), sd = d3.deviation(inRange);
const pdf = v => Math.exp(-0.5 * ((v - mu) / sd) ** 2) / (sd * Math.sqrt(2 * Math.PI));
const yLo = d3.min(hv), yHi = d3.max(hv);
ph.g.append('path').datum(d3.range(yLo, yHi, 0.01))
  .attr('d', d3.line().x(v => ph.x(pdf(v))).y(v => ph.y(v)))
  .attr('fill', 'none').attr('stroke', '#ffa500').attr('stroke-width', 2.5);
[seaSurfaceRange[0], seaSurfaceRange[1]].forEach(v => ph.g.append('line')
  .attr('x1', ph.x(0)).attr('x2', ph.x(1.5)).attr('y1', ph.y(v)).attr('y2', ph.y(v))
  .attr('stroke', '#ff0000').attr('stroke-width', 2).attr('stroke-dasharray', '7,4'));
ph.g.append('line').attr('x1', ph.x(0)).attr('x2', ph.x(1.5)).attr('y1', ph.y(seaSurfaceHeight)).attr('y2', ph.y(seaSurfaceHeight))
  .attr('stroke', '#ff0000').attr('stroke-width', 2.5);
frame(ph, ticksH_x, ticksB_y, false);
label('Probability Density', 997, 358, 27);
label('(b)', 851, 398, 26);
svg.append('line').attr('x1', 552).attr('x2', 1101).attr('y1', 372).attr('y2', 372).attr('stroke', '#eeeeee');

// ----- (c) -----
const pc = panel({xd: [0, 6610], yd: [-44.9, 16.8], l: 78.7, r: 541.4, t: 423.3, b: 723.3});
dots(pc, level1All, '#0000ff', 1.7);
dots(pc, surf.filter(d => d[1] >= seaSurfaceRange[0] && d[1] <= seaSurfaceRange[1]), '#008000', 1.9);
dots(pc, lv2, '#ff0000', 1.7);
frame(pc, ticksCD_x, ticksCD_y, true);
legend({x: 181, y: 424, w: 352, h: 75, mx: 210, tx: 248, rows: [441.7, 461.7, 481.5]},
  [{kind: 'dot', color: '#0000ff', r: 1.9, label: 'Photons of the Level-1 denoising'},
   {kind: 'dot', color: '#008000', r: 1.9, label: 'Photons of the sea surface'},
   {kind: 'dot', color: '#ff0000', r: 1.9, label: 'Photons of the Level-2 denoising'}]);
label('Along-Track/m', 310, 775, 27);
label('Height(MSL)/m', 30, 573, 27, true);
label('(c)', 305, 811, 26);

// ----- (d) -----
const pd = panel({xd: [0, 6610], yd: [-44.9, 16.8], l: 631.2, r: 1095.2, t: 423.3, b: 723.3});
dots(pd, lv2, '#ff0000', 1.6);
dots(pd, corr, '#bf00bf', 1.6);
frame(pd, ticksCD_x, ticksCD_y, true);
legend({x: 729, y: 427, w: 357, h: 56, mx: 757, tx: 795, rows: [444.3, 464.3]},
  [{kind: 'dot', color: '#ff0000', r: 1.9, label: 'Photons of the Level-2 denoising'},
   {kind: 'dot', color: '#bf00bf', r: 1.9, label: 'Corrected photons of the seafloor'}]);
label('Along-Track/m', 863, 775, 27);
label('Height(MSL)/m', 582, 573, 27, true);
label('(d)', 851, 811, 26);
</script>
</body></html>
